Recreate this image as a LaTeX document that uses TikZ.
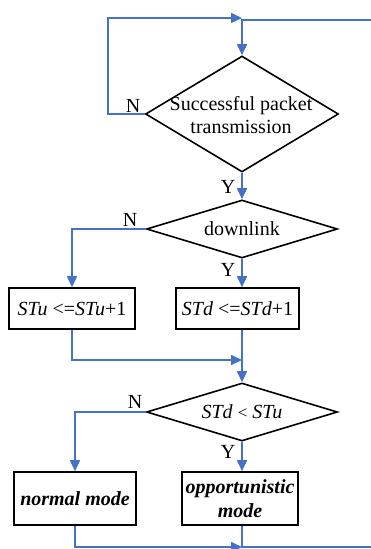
\documentclass[tikz,border=0pt]{standalone}
\usepackage{fontspec}
\setmainfont{Liberation Serif}
\usetikzlibrary{arrows.meta,shapes.geometric}
\definecolor{lineblue}{RGB}{68,114,196}
\begin{document}
\begin{tikzpicture}[x=1pt,y=-1pt,
  dec/.style={diamond,draw=black,line width=1.6pt,inner sep=0pt},
  proc/.style={rectangle,draw=black,line width=1.6pt,inner sep=0pt,font=\fontsize{20}{23}\selectfont},
  flow/.style={draw=lineblue,line width=1.7pt,-{Triangle[length=11pt,width=10pt]}},
  link/.style={draw=lineblue,line width=1.7pt},
  lab/.style={font=\fontsize{20}{23}\selectfont,inner sep=0pt},
]
\useasboundingbox (0,0) rectangle (370,549);

\node[dec,minimum width=193pt,minimum height=116pt] (d1) at (242,114) {};
\node[lab,align=center] (t1) at (241,115) {Successful packet\\transmission};

\node[dec,minimum width=191pt,minimum height=58pt] (d2) at (242,229) {};
\node[lab] (t2) at (d2.center) {downlink};

\node[proc,minimum width=126pt,minimum height=41pt] (bu) at (72,308.5) {\textit{STu} <=\textit{STu}+1};
\node[proc,minimum width=123pt,minimum height=41pt] (bd) at (237.5,308.5) {\textit{STd} <=\textit{STd}+1};

\node[dec,minimum width=191pt,minimum height=58pt] (d3) at (242,412) {};
\node[lab] (t3) at (d3.center) {\textit{STd} {\fontsize{17}{19}\selectfont<} \textit{STu}};

\node[proc,minimum width=122pt,minimum height=53pt] (nm) at (75,498.5) {\textbf{\textit{normal mode}}};
\node[proc,minimum width=116pt,minimum height=53pt,align=center] (om) at (240,498.5) {\textbf{\textit{opportunistic}}\\[1pt]\textbf{\textit{mode}}};

% labels
\node[lab] (n1) at (133,106) {N};
\node[lab] (y1) at (228,187) {Y};
\node[lab] (n2) at (130,220) {N};
\node[lab] (y2) at (228,270) {Y};
\node[lab] (n3) at (135,402) {N};
\node[lab] (y3) at (228,452) {Y};

% coordinates
\coordinate (lt) at (108,18);
\coordinate (topin) at (242,18);
\coordinate (topright) at (372,20);
\coordinate (topjoin) at (242,20);
\coordinate (mid) at (242,360);
\coordinate (bj) at (242,547);
\coordinate (br) at (372,547);

% connectors
\draw[flow] (d1.west) -| (lt) -- (topin);
\draw[flow] (topright) -- (topjoin) -- (d1.north);
\draw[flow] (d1.south) -- (d2.north);
\draw[flow] (d2.west) -| (bu.north);
\draw[flow] (d2.south) -- (d2.south |- bd.north);
\draw[flow] (bu.south) |- (mid);
\draw[flow] (d2.south |- bd.south) -- (d3.north);
\draw[flow] (d3.west) -| (nm.north);
\draw[flow] (d3.south) -- (d3.south |- om.north);
\draw[flow] (nm.south) |- (bj);
\draw[link] (d3.south |- om.south) |- (br);
\end{tikzpicture}
\end{document}
